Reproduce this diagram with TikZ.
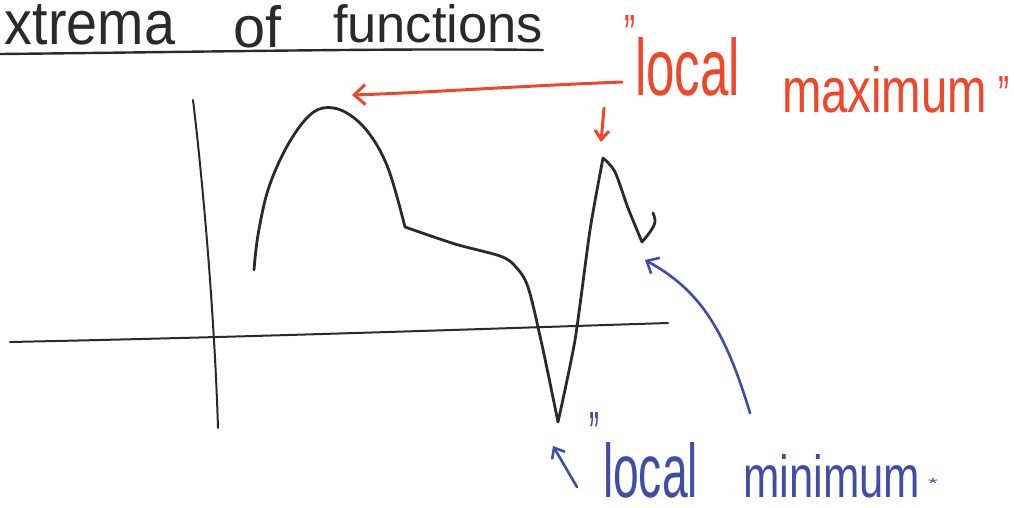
\documentclass[tikz,border=0pt]{standalone}
\usepackage{fontspec}
\setmainfont{Liberation Sans}
\usetikzlibrary{arrows.meta}
\definecolor{penred}{HTML}{F0462A}
\definecolor{penblue}{HTML}{3F4DA6}
\definecolor{penblack}{HTML}{2A2A2A}
\tikzset{
  hand/.style={inner sep=0pt, outer sep=0pt, anchor=south west},
  curveline/.style={draw=penblack, line width=2.8pt, line cap=round, line join=round},
  axisline/.style={draw=penblack, line width=2pt, line cap=round},
  redpen/.style={draw=penred, line width=3pt, line cap=round, line join=round},
  bluepen/.style={draw=penblue, line width=2.6pt, line cap=round, line join=round},
  barb/.style={-{Straight Barb[length=11pt,width=20pt,line width=3pt]}}
}
\begin{document}
\begin{tikzpicture}[x=1pt,y=-1pt]
\useasboundingbox (0,0) rectangle (1014,508);
% title
\node[hand, text=penblack] (t1) at (5,45) {\resizebox{170pt}{40pt}{xtrema}};
\node[hand, text=penblack] (t2) at (233,48) {\resizebox{48pt}{42pt}{of}};
\node[hand, text=penblack] (t3) at (333,43) {\resizebox{210pt}{38pt}{functions}};
\draw[axisline, line width=2.4pt] (0,54) .. controls (200,52) and (400,48) .. (543,50);
% axes
\coordinate (yt) at (193,100);
\coordinate (yb) at (218,428);
\coordinate (xl) at (10,342);
\coordinate (xr) at (668,323);
\draw[axisline] (yt) .. controls (205,200) and (215,330) .. (yb);
\draw[axisline] (xl) .. controls (250,337) and (450,330) .. (xr);
% function
\coordinate (max1) at (323,108);
\coordinate (max2) at (603,158);
\coordinate (min1) at (558,422);
\coordinate (min2) at (642,242);
\draw[curveline] plot[smooth, tension=0.6] coordinates {(254,270) (258,235) (268,190) (285,150) (305,120) (323,108) (345,112) (368,132) (388,168) (405,227)}
  -- plot[smooth, tension=0.5] coordinates {(405,227) (455,244) (500,256) (515,266) (528,287) (542,345) (558,422)}
  -- plot[smooth, tension=0.4] coordinates {(558,422) (575,340) (590,230) (603,158)}
  -- plot[smooth, tension=0.5] coordinates {(603,158) (615,172) (628,208) (642,242)}
  -- plot[smooth, tension=0.6] coordinates {(642,242) (650,232) (655,222) (653,213)};
% red label
\node[hand, text=penred] (lmax1) at (635,96) {\resizebox{105pt}{58pt}{local}};
\node[hand, text=penred] (lmax2) at (782,113) {\resizebox{205pt}{46pt}{maximum}};
\node[hand, text=penred] (q1) at (624,54) {\resizebox{11pt}{38pt}{"}};
\node[hand, text=penred] (q2) at (998,114) {\resizebox{11pt}{38pt}{"}};
\coordinate (rtail) at (622,82);
\coordinate (rtip) at (352,95);
\draw[redpen, barb] (rtail) .. controls (520,86) and (420,93) .. (rtip);
\coordinate (r2tail) at (604,108);
\coordinate (r2tip) at (601,142);
\draw[redpen, -{Straight Barb[length=9pt,width=14pt,line width=3pt]}] (r2tail) -- (r2tip);
% blue label
\node[hand, text=penblue] (lmin1) at (603,498) {\resizebox{95pt}{55pt}{local}};
\node[hand, text=penblue] (lmin2) at (743,498) {\resizebox{177pt}{43pt}{minimum}};
\node[hand, text=penblue] (q3) at (589,456) {\resizebox{10pt}{44pt}{"}};
\node[hand, text=penblue] (q4) at (928,488) {\resizebox{10pt}{10pt}{*}};
\coordinate (btail) at (750,413);
\coordinate (btip) at (645,260);
\draw[bluepen, -{Straight Barb[length=10pt,width=18pt,line width=2.6pt]}] (btail) .. controls (725,330) and (700,290) .. (btip);
\coordinate (b2tail) at (577,487);
\coordinate (b2tip) at (553,446);
\draw[bluepen, -{Straight Barb[length=9pt,width=15pt,line width=2.6pt]}] (b2tail) -- (b2tip);
\end{tikzpicture}
\end{document}
